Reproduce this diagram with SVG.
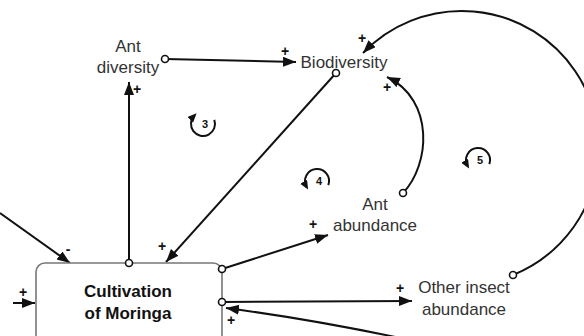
<svg xmlns="http://www.w3.org/2000/svg" width="584" height="336" viewBox="0 0 584 336">
<style>
.lbl{font-family:"Liberation Sans",Arial,sans-serif;font-size:17px;fill:#333;text-anchor:middle}
.bold{font-family:"Liberation Sans",Arial,sans-serif;font-size:17px;font-weight:bold;fill:#111;text-anchor:middle}
.sign{font-family:"Liberation Sans",Arial,sans-serif;font-size:14px;font-weight:bold;fill:#111;text-anchor:middle}
.loopn{font-family:"Liberation Sans",Arial,sans-serif;font-size:11px;font-weight:bold;fill:#111;text-anchor:middle}
.ln{fill:none;stroke:#111;stroke-width:2}
.lp{fill:none;stroke:#111;stroke-width:2}
.dot{fill:#fff;stroke:#111;stroke-width:1.6}
</style>
<defs>
<marker id="ah" markerUnits="userSpaceOnUse" markerWidth="14" markerHeight="12" refX="13" refY="5" orient="auto">
<path d="M0,0 L13,5 L0,10 z" fill="#111"/>
</marker>
<marker id="sh" markerUnits="userSpaceOnUse" markerWidth="10" markerHeight="10" refX="6" refY="4" orient="auto">
<path d="M0,0 L9,4 L0,8 z" fill="#111"/>
</marker>
</defs>
<rect width="584" height="336" fill="#fff"/>
<g id="connectors">
<path class="ln" d="M129,263 L129,82" marker-end="url(#ah)"/>
<path class="ln" d="M165,59 L296,62" marker-end="url(#ah)"/>
<path class="ln" d="M336,73 L166,262" marker-end="url(#ah)"/>
<path class="ln" d="M513,275 A137,137 0 1 0 363,53" marker-end="url(#ah)"/>
<path class="ln" d="M403,193 C430,165 435,100 387,77" marker-end="url(#ah)"/>
<path class="ln" d="M222,269 L328,235" marker-end="url(#ah)"/>
<path class="ln" d="M222,302 L412,301" marker-end="url(#ah)"/>
<path class="ln" d="M400,338 Q310,319 226,308" marker-end="url(#ah)"/>
<path class="ln" d="M0,213 L70,263" marker-end="url(#ah)"/>
<path class="ln" d="M13,303 L35,303" marker-end="url(#ah)"/>
<circle class="dot" cx="165" cy="59" r="3.5"/>
<circle class="dot" cx="336" cy="73" r="3.5"/>
<circle class="dot" cx="513" cy="275" r="3.5"/>
<circle class="dot" cx="403" cy="193" r="3.5"/>
<text class="sign" x="137" y="94">+</text>
<text class="sign" x="285" y="56">+</text>
<text class="sign" x="362" y="43">+</text>
<text class="sign" x="387" y="92">+</text>
<text class="sign" x="162" y="251">+</text>
<text class="sign" x="313" y="229">+</text>
<text class="sign" x="400" y="293">+</text>
<text class="sign" x="231" y="325">+</text>
<text class="sign" x="23" y="297">+</text>
<text class="sign" x="68" y="254">-</text>
</g>
<g id="loop3">
<path class="lp" d="M214.3,119.9 A12,12 0 1 1 194.5,115.5" marker-end="url(#sh)"/>
<text class="loopn" x="205" y="128">3</text>
</g>
<g id="loop4">
<path class="lp" d="M328.3,185.1 A12,12 0 1 0 306.6,187" marker-end="url(#sh)"/>
<text class="loopn" x="319" y="185">4</text>
</g>
<g id="loop5">
<path class="lp" d="M489.3,164.1 A12,12 0 1 0 467.6,166" marker-end="url(#sh)"/>
<text class="loopn" x="480" y="164">5</text>
</g>
<g id="cultivation">
<rect x="36" y="263" width="186" height="100" rx="9" fill="#fff" stroke="#777" stroke-width="1.6"/>
<text class="bold" x="128" y="297">Cultivation</text>
<text class="bold" x="128" y="319">of Moringa</text>
<circle class="dot" cx="129" cy="263" r="3.5"/>
<circle class="dot" cx="222" cy="269" r="3.5"/>
<circle class="dot" cx="222" cy="302" r="3.5"/>
</g>
<g id="ant-diversity">
<text class="lbl" x="128" y="52">Ant</text>
<text class="lbl" x="128" y="73">diversity</text>
</g>
<g id="biodiversity">
<text class="lbl" x="344" y="68">Biodiversity</text>
</g>
<g id="ant-abundance">
<text class="lbl" x="375" y="210">Ant</text>
<text class="lbl" x="375" y="231">abundance</text>
</g>
<g id="other-insect-abundance">
<text class="lbl" x="464" y="293">Other insect</text>
<text class="lbl" x="464" y="315">abundance</text>
</g>
</svg>
